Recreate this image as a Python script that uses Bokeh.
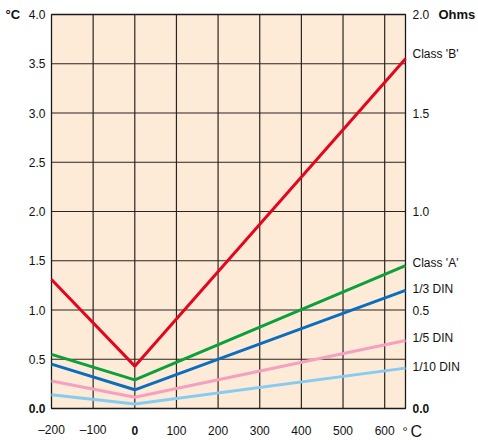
from bokeh.plotting import figure
from bokeh.models import Range1d
from bokeh.core.properties import value
from bokeh.embed import file_html
from bokeh.resources import INLINE

# ---- data ----
temps = [-200, 0, 650]
class_b = [1.31, 0.43, 3.55]
class_a = [0.55, 0.29, 1.45]
din_1_3 = [0.45, 0.19, 1.20]
din_1_5 = [0.28, 0.115, 0.69]
din_1_10 = [0.14, 0.045, 0.41]

series_names = ["Class 'B'", "Class 'A'", "1/3 DIN", "1/5 DIN", "1/10 DIN"]
series_colors = ["#E3061E", "#0BA03C", "#0A6EBD", "#F4A0BE", "#86CBF0"]
series_label_y = [3.60, 1.475, 1.215, 0.714, 0.426]

x_ticks = [-200, -100, 0, 100, 200, 300, 400, 500, 600]
x_tick_labels = ["\u2013200", "\u2013100", "0", "100", "200", "300", "400", "500", "600"]
y_ticks = [0.0, 0.5, 1.0, 1.5, 2.0, 2.5, 3.0, 3.5, 4.0]
y_tick_labels = ["0.0", "0.5", "1.0", "1.5", "2.0", "2.5", "3.0", "3.5", "4.0"]
ohm_ticks = [0.0, 1.0, 2.0, 3.0, 4.0]
ohm_tick_labels = ["0.0", "0.5", "1.0", "1.5", "2.0"]

X_MIN, X_MAX = -200, 650
Y_MIN, Y_MAX = 0.0, 4.0

# ---- layout (pixels) ----
W, H = 478, 440
PL, PR, PT, PB = 51, 405, 14, 408   # plot-area edges in canvas pixels
ux = (X_MAX - X_MIN) / (PR - PL)    # data units per px
uy = (Y_MAX - Y_MIN) / (PB - PT)
xr = Range1d(X_MIN - PL * ux, X_MAX + (W - PR) * ux)
yr = Range1d(Y_MIN - (H - PB) * uy, Y_MAX + PT * uy)

def sx(px):
    return X_MIN + (px - PL) * ux

def sy(py):
    return Y_MIN + (PB - py) * uy

FONT = value("Liberation Sans")
FS = value("12px")
TXT = "#111111"

p = figure(width=W, height=H, output_backend="svg", toolbar_location=None,
           x_range=xr, y_range=yr, x_axis_type=None, y_axis_type=None,
           min_border=0)
p.outline_line_color = None
p.background_fill_color = "white"
p.border_fill_color = "white"
p.grid.visible = False

# plot area background
p.quad(left=[X_MIN], right=[X_MAX], bottom=[Y_MIN], top=[Y_MAX],
       fill_color="#FDEBD8", line_color=None)

# grid
gx = [t for t in x_ticks if t > X_MIN]
p.segment(x0=gx, x1=gx, y0=[Y_MIN] * len(gx), y1=[Y_MAX] * len(gx),
          line_color="#2b2520", line_width=1.2)
gy = [t for t in y_ticks if Y_MIN < t < Y_MAX]
p.segment(x0=[X_MIN] * len(gy), x1=[X_MAX] * len(gy), y0=gy, y1=gy,
          line_color="#2b2520", line_width=1.2)

# outline
p.quad(left=[X_MIN], right=[X_MAX], bottom=[Y_MIN], top=[Y_MAX],
       fill_color=None, line_color="#1a1a1a", line_width=1.3)

# series
for ys, c in zip([class_b, class_a, din_1_3, din_1_5, din_1_10], series_colors):
    p.line(temps, ys, line_color=c, line_width=3)

# left tick labels
lx = sx(45)
p.text(x=[lx] * (len(y_ticks) - 1), y=y_ticks[1:], text=y_tick_labels[1:],
       text_align="right", text_baseline="middle", text_font=FONT, text_font_size=FS, text_color=TXT)
p.text(x=[lx], y=[y_ticks[0]], text=[y_tick_labels[0]], text_align="right", text_baseline="middle",
       text_font=FONT, text_font_size=FS, text_font_style="bold", text_color=TXT)

# right tick labels (Ohms)
rx = sx(412)
p.text(x=[rx] * (len(ohm_ticks) - 1), y=ohm_ticks[1:], text=ohm_tick_labels[1:],
       text_align="left", text_baseline="middle", text_font=FONT, text_font_size=FS, text_color=TXT)
p.text(x=[rx], y=[ohm_ticks[0]], text=[ohm_tick_labels[0]], text_align="left", text_baseline="middle",
       text_font=FONT, text_font_size=FS, text_font_style="bold", text_color=TXT)
p.text(x=[sx(438)], y=[Y_MAX], text=["Ohms"], text_align="left", text_baseline="middle",
       text_font=FONT, text_font_size=value("13px"), text_font_style="bold", text_color=TXT)

# series labels
p.text(x=[rx] * len(series_names), y=series_label_y, text=series_names,
       text_align="left", text_baseline="middle", text_font=FONT, text_font_size=FS, text_color=TXT)

# x tick labels
xl_y = sy(429.5)
nb = [i for i, t in enumerate(x_ticks) if t != 0]
p.text(x=[x_ticks[i] for i in nb], y=[xl_y] * len(nb), text=[x_tick_labels[i] for i in nb],
       text_align="center", text_baseline="middle", text_font=FONT, text_font_size=FS, text_color=TXT)
p.text(x=[0], y=[xl_y], text=["0"], text_align="center", text_baseline="middle",
       text_font=FONT, text_font_size=FS, text_font_style="bold", text_color=TXT)

# units
p.text(x=[sx(5)], y=[Y_MAX], text=["\u00b0C"], text_align="left", text_baseline="middle",
       text_font=FONT, text_font_size=value("13px"), text_font_style="bold", text_color=TXT)
p.text(x=[sx(402)], y=[sy(431)], text=["\u00b0"], text_align="left", text_baseline="middle",
       text_font=FONT, text_font_size=value("13px"), text_color=TXT)
p.text(x=[sx(410)], y=[sy(430.5)], text=["C"], text_align="left", text_baseline="middle",
       text_font=FONT, text_font_size=value("16px"), text_color=TXT)

open("out.html", "w").write(file_html(p, INLINE))
